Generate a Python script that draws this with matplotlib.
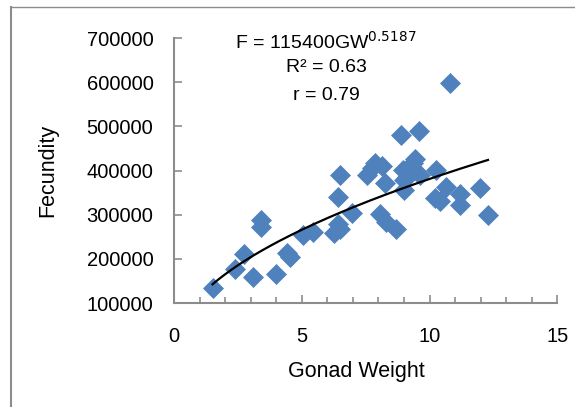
import matplotlib.pyplot as plt
import numpy as np
from matplotlib.lines import Line2D

plt.rcParams['font.family'] = ['Liberation Sans', 'DejaVu Sans']

# gonad weight vs fecundity
gonad_weight = [1.5, 2.4, 2.75, 3.1, 3.4, 3.4, 4.0, 4.4, 4.55, 5.05,
                5.45, 6.25, 6.4, 6.5, 6.4, 6.5, 6.95, 7.55, 7.75, 7.85,
                8.15, 8.25, 8.05, 8.3, 8.7, 8.9, 8.97, 9.0, 9.1, 9.0,
                9.35, 9.45, 9.58, 9.62, 10.27, 10.2, 10.4, 10.66, 10.79, 11.19,
                11.19, 11.97, 12.29]
fecundity = [134000, 178000, 212000, 160000, 287000, 273000, 166000, 213000, 205000, 255000,
             260000, 258000, 278000, 268000, 340000, 390000, 303000, 390000, 405000, 418000,
             410000, 371000, 302000, 284000, 268000, 480000, 401000, 378000, 385000, 357000,
             416000, 425000, 490000, 390000, 401000, 337000, 330000, 362000, 598000, 346000,
             321000, 360000, 299000]

# power trendline F = a * GW^b
coef_a = 115400
coef_b = 0.5187
eq_lines = ['F = 115400GW$^{0.5187}$', 'R² = 0.63', 'r = 0.79']

fig = plt.figure(figsize=(5.75, 4.07), dpi=100)
ax = fig.add_axes([0.303, 0.2555, 0.666, 0.651])

ax.plot(gonad_weight, fecundity, 'D', color='#4F81BD', markersize=10.5,
        markeredgecolor='#4F81BD', markeredgewidth=0.5, zorder=2)

xs = np.linspace(min(gonad_weight), max(gonad_weight), 200)
ax.plot(xs, coef_a * xs ** coef_b, color='black', lw=1.6, zorder=3)

ax.set_xlim(0, 15)
ax.set_ylim(100000, 700000)
ax.set_xticks([0, 5, 10, 15])
ax.set_xticks(np.arange(0, 16, 1), minor=True)
ax.set_yticks(np.arange(100000, 700001, 100000))

for s in ['top', 'right']:
    ax.spines[s].set_visible(False)
for s in ['left', 'bottom']:
    ax.spines[s].set_color('#8c8c8c')
    ax.spines[s].set_linewidth(1.5)

ax.tick_params(axis='both', which='major', direction='in', length=6, width=1.2,
               color='#8c8c8c', labelsize=14.5)
ax.tick_params(axis='x', which='minor', direction='in', length=4, width=1.2, color='#8c8c8c')
ax.tick_params(axis='y', which='major', pad=15)
ax.tick_params(axis='x', which='major', pad=17)

ax.set_xlabel('Gonad Weight', fontsize=15.5, va='center')
ax.set_ylabel('Fecundity', fontsize=15.5, va='center')
ax.xaxis.set_label_coords(0.475, -0.26)
ax.yaxis.set_label_coords(-0.33, 0.502)

ax.text(0.397, 0.985, eq_lines[0], transform=ax.transAxes, ha='center', va='center', fontsize=14)
ax.text(0.397, 0.887, eq_lines[1], transform=ax.transAxes, ha='center', va='center', fontsize=14)
ax.text(0.397, 0.785, eq_lines[2], transform=ax.transAxes, ha='center', va='center', fontsize=14)

# chart border (only top and left are visible in the crop)
fig.add_artist(Line2D([11 / 575, 11 / 575], [0, 1 - 7 / 407], color='#8c8c8c', lw=1.5))
fig.add_artist(Line2D([11 / 575, 1], [1 - 7 / 407, 1 - 7 / 407], color='#8c8c8c', lw=1.0))

fig.savefig('out.png', dpi=100)
